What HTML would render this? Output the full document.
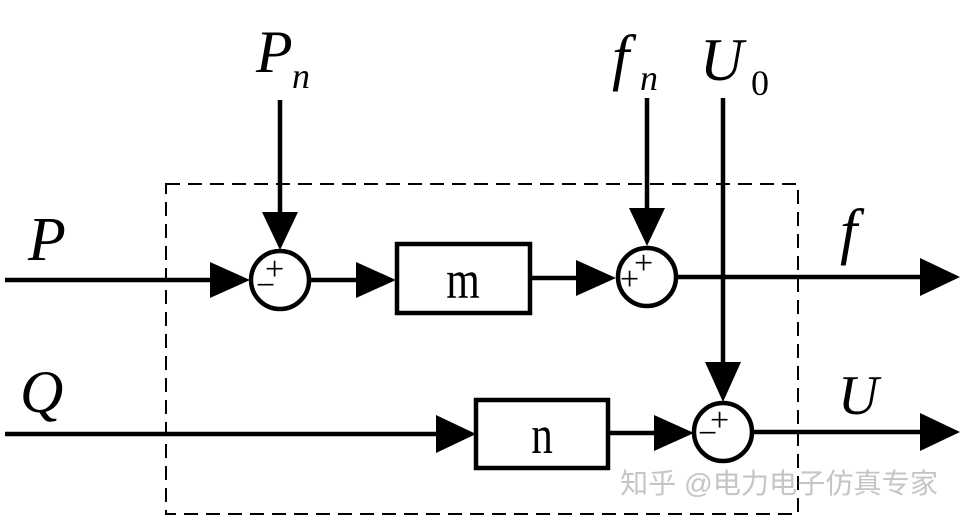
<!DOCTYPE html>
<html><head><meta charset="utf-8"><style>body{margin:0;background:#fff}</style></head><body>
<svg width="964" height="520" viewBox="0 0 964 520" xmlns="http://www.w3.org/2000/svg">
<rect x="166" y="184" width="632" height="330" fill="none" stroke="#000" stroke-width="2" stroke-dasharray="14,8"/>
<g stroke="#000" stroke-width="4.5" fill="none">
<line x1="5" y1="280" x2="210" y2="280"/><path d="M210,262L250,280L210,298z" fill="#000" stroke="none"/>
<line x1="280" y1="100" x2="280" y2="212"/><path d="M262,212L280,250L298,212z" fill="#000" stroke="none"/>
<circle cx="280" cy="280" r="29" fill="#fff"/>
<line x1="309" y1="280" x2="358" y2="280"/><path d="M356,262L396,280L356,298z" fill="#000" stroke="none"/>
<rect x="397" y="244" width="133" height="69" fill="#fff"/>
<line x1="530" y1="278" x2="578" y2="278"/><path d="M576,260L616,278L576,296z" fill="#000" stroke="none"/>
<line x1="647" y1="98" x2="647" y2="210"/><path d="M629,208L647,246L665,208z" fill="#000" stroke="none"/>
<circle cx="647" cy="277" r="29" fill="#fff"/>
<line x1="676" y1="277" x2="922" y2="277"/><path d="M920,258L960,277L920,296z" fill="#000" stroke="none"/>
<line x1="723" y1="98" x2="723" y2="365"/><path d="M705,362L723,402L741,362z" fill="#000" stroke="none"/>
<line x1="5" y1="434" x2="438" y2="434"/><path d="M436,415L476,434L436,453z" fill="#000" stroke="none"/>
<rect x="476" y="400" width="132" height="68" fill="#fff"/>
<line x1="608" y1="433" x2="656" y2="433"/><path d="M654,415L694,433L654,451z" fill="#000" stroke="none"/>
<circle cx="723" cy="432" r="29" fill="#fff"/>
<line x1="752" y1="432" x2="922" y2="432"/><path d="M920,413L960,432L920,451z" fill="#000" stroke="none"/>
</g>
<g font-family="Liberation Serif, serif" fill="#000">
<text x="463" y="298" font-size="54" text-anchor="middle" transform="translate(463 0) scale(0.8 1) translate(-463 0)">m</text>
<text x="542" y="453" font-size="54" text-anchor="middle" transform="translate(542 0) scale(0.8 1) translate(-542 0)">n</text>
<g font-size="34"><text x="265" y="280">+</text><text x="256" y="296">−</text>
<text x="634" y="274">+</text><text x="620" y="290">+</text>
<text x="710" y="431">+</text><text x="698" y="444">−</text></g>
<g font-style="italic">
<text x="28" y="260" font-size="62">P</text>
<text x="256" y="72" font-size="60">P</text><text x="292" y="88" font-size="36">n</text>
<text x="612" y="78" font-size="62">f</text><text x="640" y="90" font-size="36">n</text>
<text x="700" y="80" font-size="60">U</text><text x="751" y="95" font-size="36" font-style="normal">0</text>
<text x="840" y="252" font-size="62">f</text>
<text x="20" y="412" font-size="60">Q</text>
<text x="838" y="414" font-size="56">U</text>
</g></g>
<text x="620" y="493" font-family="Liberation Sans, Noto Sans CJK SC, sans-serif" font-size="28" textLength="318" lengthAdjust="spacingAndGlyphs" fill="#bbb" opacity="0.85">知乎 @电力电子仿真专家</text>
</svg>
</body></html>
